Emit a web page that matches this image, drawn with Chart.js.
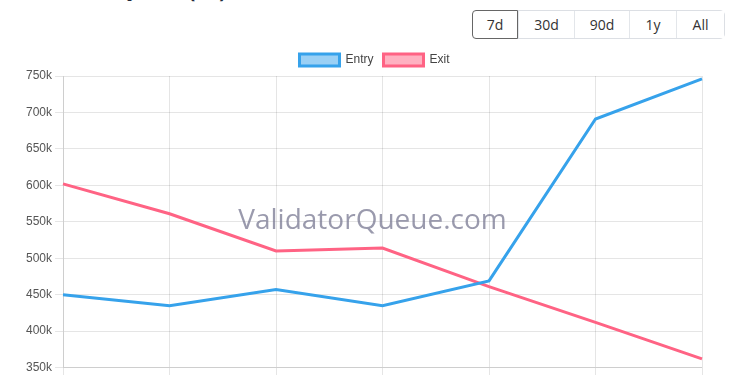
<!DOCTYPE html>
<html>
<head>
<meta charset="utf-8">
<script src="https://cdn.jsdelivr.net/npm/chart.js@4"></script>
<style>
  body { margin: 0; width: 750px; height: 375px; overflow: hidden; background: #fff; position: relative; font-family: "Open Sans", "Noto Sans", sans-serif; }
  .title { position: absolute; left: 20px; top: -23px; margin: 0; font: bold 20px "Open Sans", sans-serif; color: #1e2a3a; }
  .range { position: absolute; left: 472px; top: 10px; display: flex; border: 1px solid #dcdfe4; border-radius: 5px; }
  .range button { font: 14px "Open Sans", sans-serif; color: #333; background: #fff; border: none; border-left: 1px solid #e3e6ea; height: 27px; padding: 0; }
  .range button:first-child { border: 1px solid #666; border-radius: 4px 0 0 4px; margin: -1px 0 -1px -1px; height: 29px; }
  .wrap { position: absolute; left: 23px; top: 44px; width: 703px; height: 352px; }
</style>
</head>
<body>
<h3 class="title">Validator Queue (7d)</h3>
<div class="range">
  <button style="width:46px">7d</button>
  <button style="width:56px">30d</button>
  <button style="width:55px">90d</button>
  <button style="width:47px">1y</button>
  <button style="width:48px">All</button>
</div>
<div class="wrap"><canvas id="queueChart"></canvas></div>
<script>
'use strict';

// values, in thousands
const days = ['Day 1', 'Day 2', 'Day 3', 'Day 4', 'Day 5', 'Day 6', 'Day 7'];
const entryQueue = [450, 435, 457, 435, 469, 691, 746];
const exitQueue = [602, 561, 510, 514, 461, 412, 362];
const yTicks = [350, 400, 450, 500, 550, 600, 650, 700, 750];

const ctx = document.getElementById('queueChart').getContext('2d');

const watermark = {
  id: 'watermark',
  beforeDatasetsDraw(chart) {
    const c = chart.ctx;
    const area = chart.chartArea;
    c.save();
    c.font = '28px "Open Sans", sans-serif';
    c.fillStyle = 'rgba(120, 120, 145, 0.75)';
    c.textAlign = 'center';
    c.textBaseline = 'middle';
    c.fillText('ValidatorQueue.com', (area.left + area.right) / 2 - 10, 177);
    c.restore();
  }
};

function renderChart() {
  const chartObj = {
    type: 'line',
    data: {
      labels: days,
      datasets: [{
        label: 'Entry',
        data: entryQueue.map(v => v * 1000),
        borderColor: 'rgb(54, 162, 235)',
        backgroundColor: 'rgba(54, 162, 235, 0.5)',
        borderWidth: 3,
        pointRadius: 0,
        tension: 0
      }, {
        label: 'Exit',
        data: exitQueue.map(v => v * 1000),
        borderColor: 'rgb(255, 99, 132)',
        backgroundColor: 'rgba(255, 99, 132, 0.5)',
        borderWidth: 3,
        pointRadius: 0,
        tension: 0
      }]
    },
    options: {
      responsive: true,
      maintainAspectRatio: false,
      animation: false,
      plugins: {
        legend: { labels: { font: { size: 12 }, color: '#444' } },
        tooltip: { enabled: false }
      },
      scales: {
        y: {
          min: yTicks[0] * 1000,
          max: yTicks[yTicks.length - 1] * 1000,
          ticks: {
            stepSize: 50000,
            color: '#555',
            font: { size: 12 },
            callback: v => (v / 1000) + 'k'
          }
        },
        x: {
          ticks: { color: '#555', font: { size: 12 } },
          // keep room on the right for the last date label
          afterFit: scale => { scale.paddingRight = 24; }
        }
      }
    },
    plugins: [watermark]
  };
  new Chart(ctx, chartObj);
}

renderChart();
</script>
</body>
</html>
